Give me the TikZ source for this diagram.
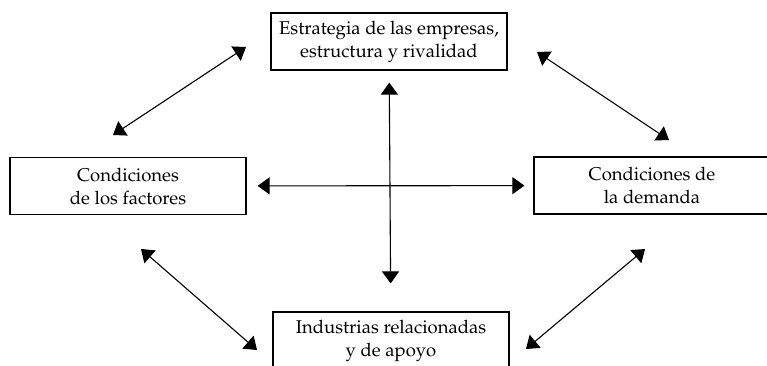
\documentclass[tikz,border=0pt]{standalone}
\usepackage[T1]{fontenc}
\usepackage{mathpazo}
\usetikzlibrary{arrows.meta}

\begin{document}
\begin{tikzpicture}[x=1pt,y=-1pt]
    \tikzset{
      factor/.style={
        draw,
        line width=1.2pt,
        rectangle,
        minimum width=236pt,
        minimum height=57pt,
        inner sep=0pt,
        align=center,
        font=\fontsize{18.5}{23}\selectfont,
      },
      twoway/.style={
        <->,
        >={Triangle[length=12pt,width=17pt]},
        line width=1.1pt,
      }
    }

    \clip (0,0) rectangle (767,365);

    \node[factor] (estr)  at (389,41.5)  {Estrategia de las empresas,\\estructura y rivalidad};
    \node[factor] (fact)  at (128,186)   {Condiciones\\de los factores};
    \node[factor] (dem)   at (652,185.5) {Condiciones de\\la demanda};
    \node[factor] (indus) at (391,340.5) {Industrias relacionadas\\y de apoyo};

    % free ends of the diagonal arrows
    \coordinate (tl-a) at (113,135);
    \coordinate (tl-b) at (246,47);
    \coordinate (tr-a) at (537,52);
    \coordinate (tr-b) at (669,140);
    \coordinate (bl-a) at (141,249);
    \coordinate (bl-b) at (257,350);
    \coordinate (br-a) at (645,249);
    \coordinate (br-b) at (526,349);

    \path[twoway]
        (fact)  edge[shorten <=11pt, shorten >=9pt]  (dem)
        (estr)  edge[shorten <=12pt, shorten >=28pt] (indus)

        % diagonals
        (tl-a) edge (tl-b)
        (tr-a) edge (tr-b)
        (bl-a) edge (bl-b)
        (br-a) edge (br-b);
\end{tikzpicture}
\end{document}
